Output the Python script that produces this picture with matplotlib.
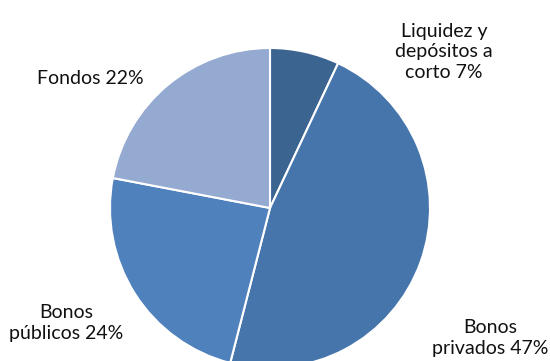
import matplotlib.pyplot as plt

plt.rcParams['font.family'] = ['Lato', 'DejaVu Sans']

names = ['Liquidez y\ndepósitos a\ncorto', 'Bonos\nprivados', 'Bonos\npúblicos', 'Fondos']
shares = [7, 47, 24, 22]
colors = ['#3C6491', '#4675AB', '#4F81BD', '#95AAD1']

# label centres in pixel coords (x from left, y from top)
label_pos = [(444, 52), (490, 338), (66, 323), (90, 78)]

W, H = 550, 361
fig = plt.figure(figsize=(W / 100, H / 100), dpi=100)
ax = fig.add_axes([0, 0, 1, 1])
ax.axis('off')

ax.pie(shares, colors=colors, startangle=90, counterclock=False,
       center=(270, H - 208), radius=160,
       wedgeprops=dict(edgecolor='white', linewidth=1.5))
ax.set_xlim(0, W)
ax.set_ylim(0, H)
ax.set_aspect('equal')

for name, val, (px, py) in zip(names, shares, label_pos):
    ax.text(px, H - py, f'{name} {val}%', ha='center', va='center',
            fontsize=14, color='#111111', linespacing=1.28)

fig.savefig('out.png', dpi=100)
